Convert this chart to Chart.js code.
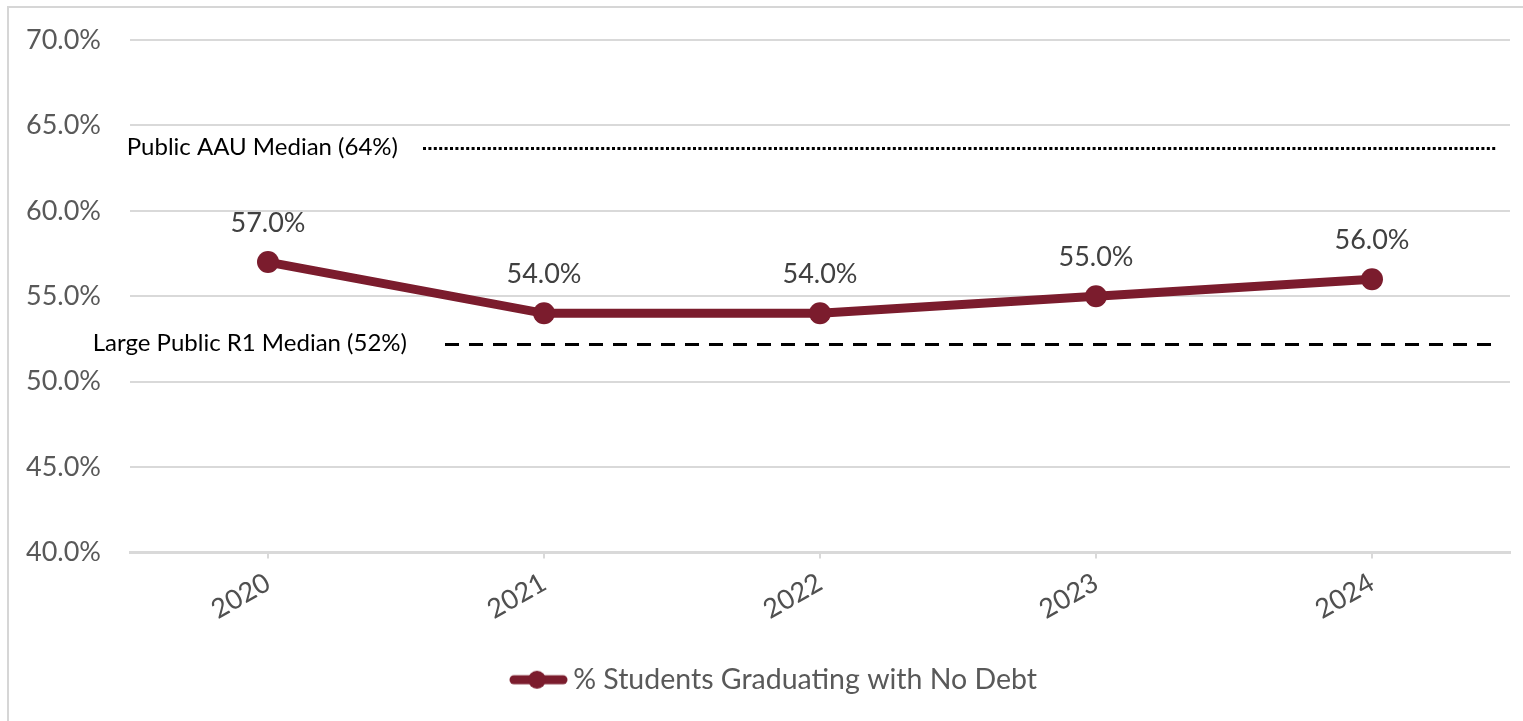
<!DOCTYPE html>
<html>
<head>
<meta charset="utf-8">
<script src="https://cdn.jsdelivr.net/npm/chart.js@4.4.1/dist/chart.umd.min.js"></script>
<style>
  html, body { margin: 0; padding: 0; background: #fff; }
  #wrap { position: relative; width: 1523px; height: 721px; overflow: hidden; }
  #frame { position: absolute; left: 7px; top: 6px; right: -5px; bottom: -5px;
           border-top: 2px solid #d6d6d6; border-left: 2px solid #d6d6d6; }
  canvas { position: absolute; left: 0; top: 0; }
</style>
</head>
<body>
<div id="wrap">
  <div id="frame"></div>
  <canvas id="chart" width="1523" height="721"></canvas>
</div>
<script>
const years = ['2020', '2021', '2022', '2023', '2024'];
const noDebtShare = [57, 54, 54, 55, 56];
const yTicks = [40, 45, 50, 55, 60, 65, 70];
const benchmarkNames = ['Public AAU Median (64%)', 'Large Public R1 Median (52%)'];
const benchmarkValues = [63.7, 52.2];
const seriesName = '% Students Graduating with No Debt';

const maroon = '#7b1c2d';
const gridGray = '#d9d9d9';
const FONT = 'Lato';

// how each benchmark line is drawn (pixels)
const benchmarkStyle = [
    { dash: [3, 2.4], start: 423, textGap: 25 },
    { dash: [14, 10], start: 445, textGap: 38 }
];
const benchmarkEnd = 1497;

// legend marker: transparent on the left so the visible part sits next to the text
function legendMarker() {
    const c = document.createElement('canvas');
    c.width = 104;
    c.height = 22;
    const g = c.getContext('2d');
    g.strokeStyle = maroon;
    g.fillStyle = maroon;
    g.lineWidth = 9;
    g.lineCap = 'round';
    g.beginPath();
    g.moveTo(50, 11);
    g.lineTo(99, 11);
    g.stroke();
    g.beginPath();
    g.arc(73, 11, 9, 0, Math.PI * 2);
    g.fill();
    return c;
}

const benchmarkPlugin = {
    id: 'benchmarks',
    beforeDatasetsDraw(chart) {
        const ctx = chart.ctx;
        const y = chart.scales.y;
        ctx.save();
        benchmarkValues.forEach((v, i) => {
            const py = Math.round(y.getPixelForValue(v)) + 0.5;
            const st = benchmarkStyle[i];
            ctx.strokeStyle = '#000';
            ctx.lineWidth = 3;
            ctx.setLineDash(st.dash);
            ctx.beginPath();
            ctx.moveTo(st.start, py);
            ctx.lineTo(benchmarkEnd, py);
            ctx.stroke();
            ctx.setLineDash([]);
            ctx.fillStyle = '#000';
            ctx.font = `24px ${FONT}`;
            ctx.textAlign = 'right';
            ctx.textBaseline = 'middle';
            ctx.fillText(benchmarkNames[i], st.start - st.textGap, py - 1);
        });
        ctx.restore();
    }
};

const valueLabels = {
    id: 'valueLabels',
    afterDatasetsDraw(chart) {
        const ctx = chart.ctx;
        const meta = chart.getDatasetMeta(0);
        ctx.save();
        ctx.fillStyle = '#404040';
        ctx.font = `27px ${FONT}`;
        ctx.textAlign = 'center';
        ctx.textBaseline = 'middle';
        meta.data.forEach((pt, i) => {
            ctx.fillText(noDebtShare[i].toFixed(1) + '%', pt.x, pt.y - 39);
        });
        ctx.restore();
    }
};

document.addEventListener('DOMContentLoaded', () => {
    const ctx = document.getElementById('chart').getContext('2d');
    new Chart(ctx, {
        type: 'line',
        data: {
            labels: years,
            datasets: [{
                label: seriesName,
                data: noDebtShare,
                borderColor: maroon,
                backgroundColor: maroon,
                borderWidth: 9,
                pointRadius: 11,
                pointBackgroundColor: maroon,
                pointBorderWidth: 0,
                tension: 0,
                fill: false
            }]
        },
        options: {
            responsive: false,
            devicePixelRatio: 1,
            animation: false,
            layout: { autoPadding: false, padding: { left: 0, top: 40, right: 13, bottom: 17 } },
            plugins: {
                tooltip: { enabled: false },
                legend: {
                    position: 'bottom',
                    labels: {
                        usePointStyle: true,
                        pointStyle: legendMarker(),
                        pointStyleWidth: 86,
                        color: '#595959',
                        padding: 10,
                        font: { family: FONT, size: 28.5 }
                    }
                }
            },
            scales: {
                x: {
                    offset: true,
                    grid: { drawOnChartArea: false, drawTicks: true, tickLength: 6, color: gridGray, lineWidth: 2 },
                    border: { color: gridGray, width: 3 },
                    ticks: {
                        minRotation: 30,
                        maxRotation: 30,
                        padding: 8,
                        color: '#505050',
                        font: { family: FONT, size: 27 }
                    },
                    afterFit: s => { s.height = 103; }
                },
                y: {
                    min: 40,
                    max: 70,
                    afterBuildTicks: s => { s.ticks = yTicks.map(v => ({ value: v })); },
                    grid: { color: gridGray, lineWidth: 2, drawTicks: false },
                    border: { display: false },
                    ticks: {
                        padding: 29,
                        color: '#595959',
                        font: { family: FONT, size: 27 },
                        callback: v => Number(v).toFixed(1) + '%'
                    },
                    afterFit: s => {
                        s.width = 130;
                        s.paddingTop = 16;
                        s.paddingBottom = 16;
                    }
                }
            }
        },
        plugins: [benchmarkPlugin, valueLabels]
    });
});
</script>
</body>
</html>
